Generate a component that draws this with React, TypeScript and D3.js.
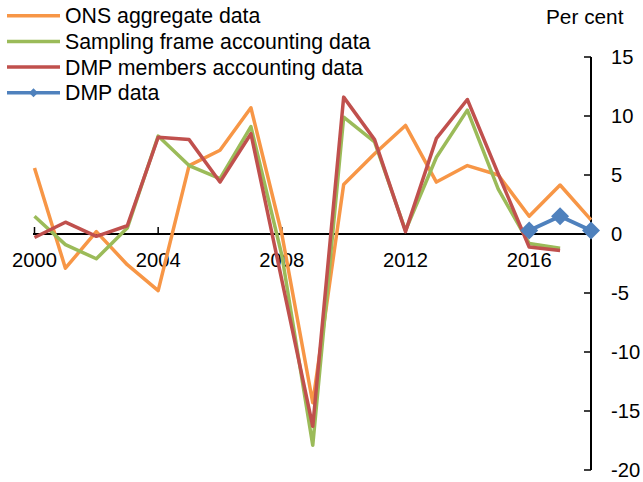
import React from "react";
import * as d3 from "d3";

const years: number[] = [2000, 2001, 2002, 2003, 2004, 2005, 2006, 2007, 2008, 2009, 2010, 2011, 2012, 2013, 2014, 2015, 2016, 2017, 2018];
const onsAggregate: number[] = [5.6, -2.9, 0.2, -2.6, -4.8, 5.8, 7.1, 10.7, 0.0, -14.3, 4.2, 6.8, 9.2, 4.4, 5.8, 5.0, 1.5, 4.15, 1.2];
const samplingFrame: number[] = [1.5, -0.9, -2.1, 0.5, 8.3, 5.8, 4.7, 9.1, -1.8, -17.9, 9.9, 7.8, 0.3, 6.5, 10.5, 3.8, -0.8, -1.2];
const dmpMembers: number[] = [-0.3, 1.0, -0.2, 0.7, 8.2, 8.0, 4.4, 8.5, -3.9, -16.3, 11.6, 8.0, 0.2, 8.1, 11.4, 5.1, -1.1, -1.4];
const dmpYears: number[] = [2016, 2017, 2018];
const dmpData: number[] = [0.3, 1.5, 0.3];

const xTicks: number[] = [2000, 2004, 2008, 2012, 2016];
const yTicks: number[] = [15, 10, 5, 0, -5, -10, -15, -20];

const seriesNames: string[] = ["ONS aggregate data", "Sampling frame accounting data", "DMP members accounting data", "DMP data"];
const colors: string[] = ["#F79646", "#9BBB59", "#C0504D", "#4F81BD"];

const FONT = "'Liberation Sans', Arial, sans-serif";

export default function App() {
  const W = 643, H = 482;
  const x = d3.scaleLinear().domain([2000, 2018]).range([34.5, 591]);
  const y = d3.scaleLinear().domain([-20, 15]).range([470, 57]);

  const line = d3
    .line<[number, number]>()
    .x((d) => x(d[0]))
    .y((d) => y(d[1]));

  const toPts = (xs: number[], vs: number[]) => vs.map((v, i) => [xs[i], v] as [number, number]);

  const series = [
    toPts(years, onsAggregate),
    toPts(years, samplingFrame),
    toPts(years, dmpMembers),
    toPts(dmpYears, dmpData),
  ];

  const diamond = (cx: number, cy: number, r: number) =>
    `M${cx},${cy - r}L${cx + r},${cy}L${cx},${cy + r}L${cx - r},${cy}Z`;

  const axisX = 591;
  const y0 = y(0);

  return (
    <svg width={W} height={H} style={{ position: "absolute", left: 0, top: 0, background: "#fff" }} fontFamily={FONT}>
      {/* x axis */}
      <line x1={x(2000) - 1.5} x2={axisX} y1={y0} y2={y0} stroke="#000" strokeWidth={2} />
      {xTicks.map((t) => (
        <g key={"xt" + t}>
          <line x1={x(t)} x2={x(t)} y1={y0} y2={y0 - 7} stroke="#000" strokeWidth={1.5} />
          <text x={x(t)} y={267} fontSize={20.2} textAnchor="middle" fill="#000">
            {t}
          </text>
        </g>
      ))}
      {/* y axis */}
      <line x1={axisX} x2={axisX} y1={y(15)} y2={y(-20)} stroke="#000" strokeWidth={2} />
      {yTicks.map((t) => (
        <g key={"yt" + t}>
          <line x1={axisX - 7} x2={axisX} y1={y(t)} y2={y(t)} stroke="#000" strokeWidth={1.5} />
          <text x={611} y={y(t) + 7} fontSize={20.2} textAnchor="start" fill="#000">
            {t}
          </text>
        </g>
      ))}
      <text x={546} y={24} fontSize={20.8} fill="#000">
        Per cent
      </text>

      {/* series lines */}
      {series.map((pts, i) => (
        <path
          key={"s" + i}
          d={line(pts) || ""}
          fill="none"
          stroke={colors[i]}
          strokeWidth={i === 3 ? 4 : 3.5}
          strokeLinejoin="round"
          strokeLinecap="butt"
        />
      ))}
      {dmpYears.map((yr, i) => (
        <path key={"dm" + i} d={diamond(x(yr), y(dmpData[i]), 9)} fill={colors[3]} />
      ))}

      {/* legend */}
      {seriesNames.map((name, i) => {
        const ly = 15.7 + 25.7 * i;
        return (
          <g key={"lg" + i}>
            <line x1={7} x2={60} y1={ly} y2={ly} stroke={colors[i]} strokeWidth={3.5} />
            {i === 3 && <path d={diamond(33.5, ly, 4.5)} fill={colors[3]} />}
            <text x={65} y={ly + 7.5} fontSize={21.3} fill="#000">
              {name}
            </text>
          </g>
        );
      })}
    </svg>
  );
}
